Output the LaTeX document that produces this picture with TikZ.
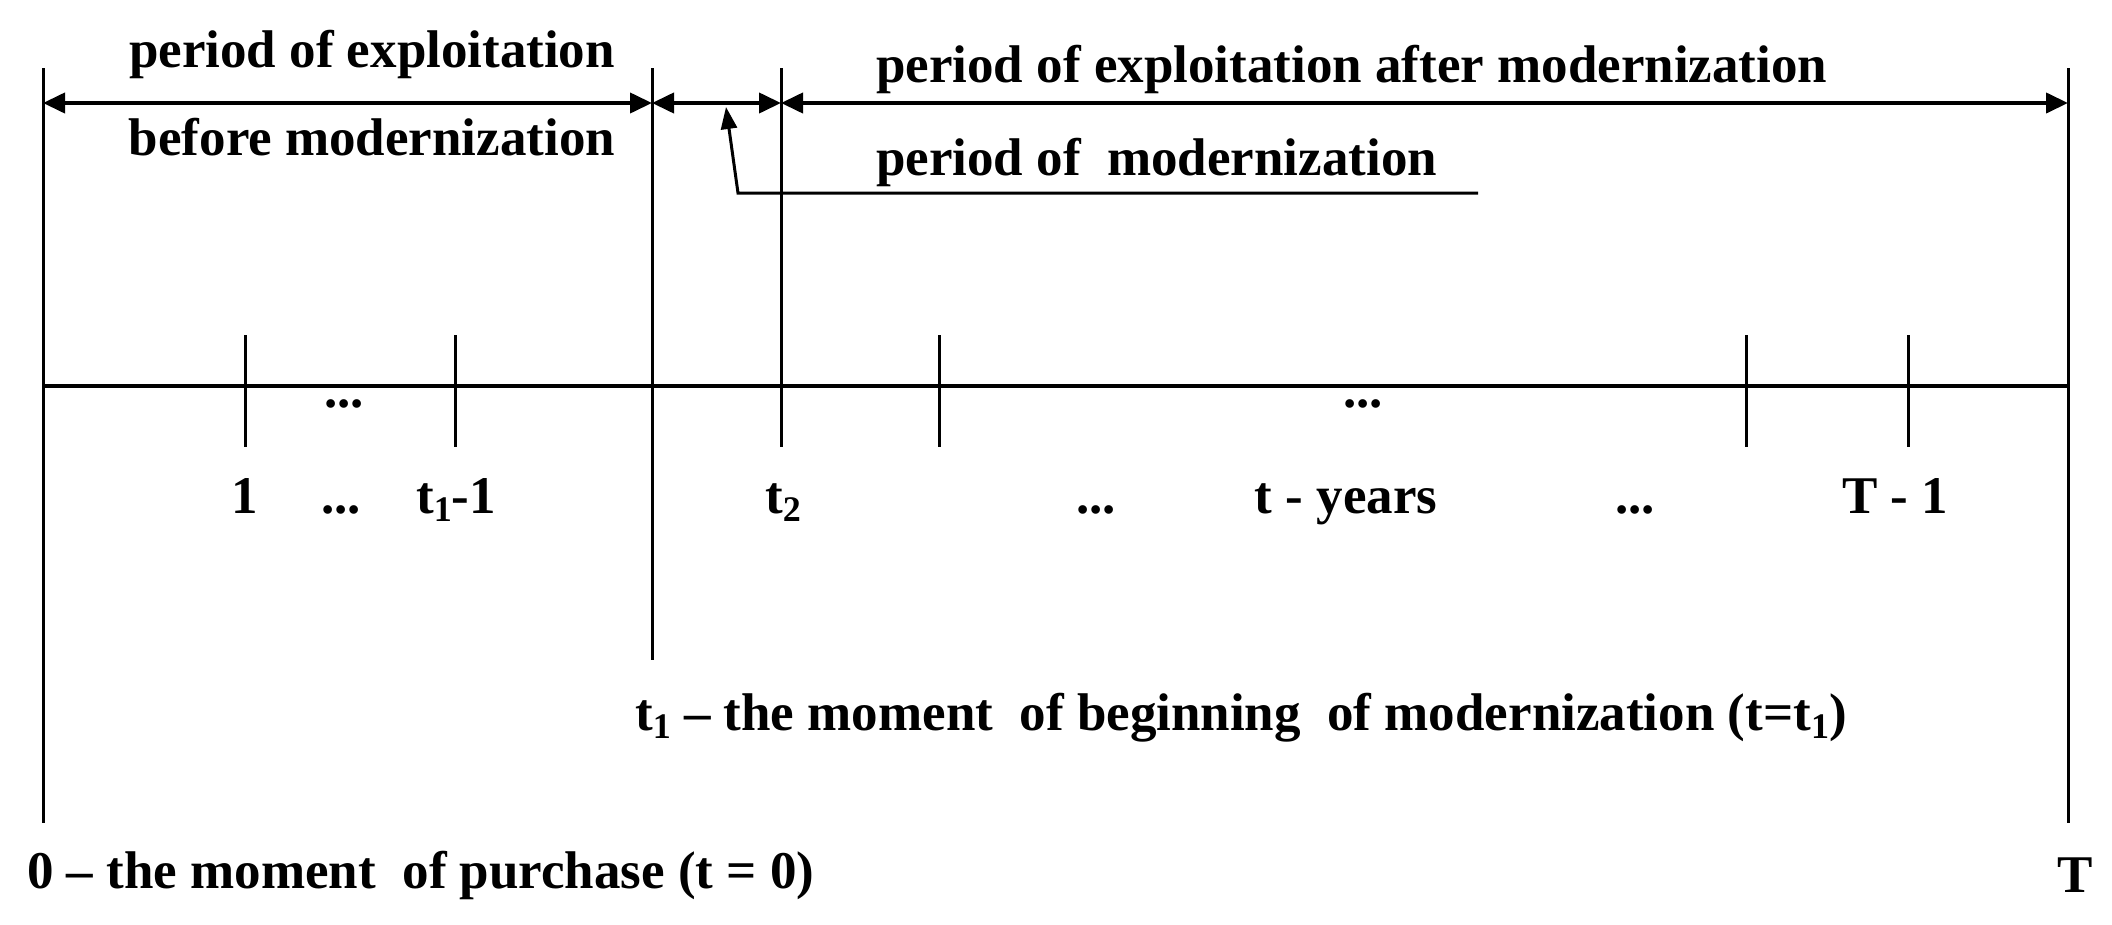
\documentclass[tikz,border=0pt]{standalone}
\usepackage{fontspec}
\setmainfont{Liberation Serif}
\usetikzlibrary{arrows.meta}
\newcommand{\lowidx}[1]{\raisebox{-0.16em}{\fontsize{36}{36}\selectfont #1}}
\begin{document}
\begin{tikzpicture}[x=1pt,y=-1pt,
  every node/.style={font=\bfseries\fontsize{53}{60}\selectfont, inner sep=0pt},
  vline/.style={line width=3pt},
  axisline/.style={line width=4pt},
  dimarrow/.style={line width=4pt, {Triangle[length=22pt,width=20pt]}-{Triangle[length=22pt,width=20pt]}},
  ptrarrow/.style={line width=3pt, -{Triangle[length=22pt,width=16pt]}}]
\useasboundingbox (0,0) rectangle (2112,924);
% vertical lines
\coordinate (L0) at (43,68);  \coordinate (L1) at (43,823);
\coordinate (M0) at (652,68); \coordinate (M1) at (652,660);
\coordinate (N0) at (781,68); \coordinate (N1) at (781,447);
\coordinate (R0) at (2068,68); \coordinate (R1) at (2068,823);
\draw[vline] (L0) -- (L1);
\draw[vline] (M0) -- (M1);
\draw[vline] (N0) -- (N1);
\draw[vline] (R0) -- (R1);
% axis
\coordinate (A0) at (43,386); \coordinate (A1) at (2068,386);
\draw[axisline] (A0) -- (A1);
% ticks
\foreach \x [count=\i] in {245,455,939,1746,1908}{
  \coordinate (tk\i a) at (\x,335);
  \coordinate (tk\i b) at (\x,447);
  \draw[vline] (tk\i a) -- (tk\i b);
}
% dimension arrows
\coordinate (D0) at (43,103); \coordinate (D1) at (652,103);
\coordinate (D2) at (781,103); \coordinate (D3) at (2068,103);
\draw[dimarrow] (D0) -- (D1);
\draw[dimarrow] (D1) -- (D2);
\draw[dimarrow] (D2) -- (D3);
% pointer
\coordinate (P0) at (1478,193); \coordinate (P1) at (738,193); \coordinate (P2) at (726,107);
\draw[ptrarrow] (P0) -- (P1) -- (P2);
% top texts
\node[anchor=base] (pe1) at (372,67) {period of exploitation};
\node[anchor=base] (pe2) at (372,155) {before modernization};
\node[anchor=base west] (pea) at (876,82) {period of exploitation after modernization};
\node[anchor=base west] (pm) at (876,175) {period of\ \ modernization};
% dots under axis
\node[anchor=base] (ad1) at (344,407) {...};
\node[anchor=base] (ad2) at (1363,407) {...};
% label row
\node[anchor=base] (l1) at (245,513) {1};
\node[anchor=base] (ld1) at (341,513) {...};
\node[anchor=base] (lt1) at (456,513) {t\lowidx{1}-1};
\node[anchor=base] (lt2) at (783,513) {t\lowidx{2}};
\node[anchor=base] (ld2) at (1096,513) {...};
\node[anchor=base] (lty) at (1346,513) {t - years};
\node[anchor=base] (ld3) at (1635,513) {...};
\node[anchor=base] (lT1) at (1895,513) {T - 1};
% bottom texts
\node[anchor=base west] (tm) at (635,730) {t\lowidx{1} -- the moment\ \ of beginning\ \ of modernization (t=t\lowidx{1})};
\node[anchor=base west] (pm0) at (27,888) {0 -- the moment\ \ of purchase (t = 0)};
\node[anchor=base] (TT) at (2075,892) {T};
\end{tikzpicture}
\end{document}
